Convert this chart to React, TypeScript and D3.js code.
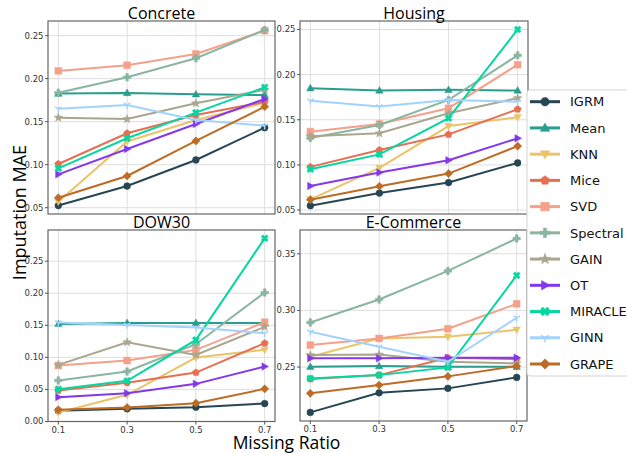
import React from "react";
import * as d3 from "d3";

const ratios = [0.1, 0.3, 0.5, 0.7];

const methods = ["IGRM", "Mean", "KNN", "Mice", "SVD", "Spectral", "GAIN", "OT", "MIRACLE", "GINN", "GRAPE"];

const colors = ["#264653", "#2a9d8f", "#e9c46a", "#e76f51", "#f4a08a", "#8ab5a0", "#a9a690", "#8338ec", "#06d6a0", "#a2d2ff", "#bc6c25"];

const markers = ["circle", "triUp", "triDown", "pentagon", "square", "plus", "star", "triRight", "x", "tri", "diamond"];

// rows follow the methods order, columns follow ratios
const concreteMAE = [
  [0.0525, 0.0752, 0.1055, 0.143],
  [0.1826, 0.1834, 0.1818, 0.181],
  [0.057, 0.127, 0.152, 0.172],
  [0.1008, 0.1365, 0.1578, 0.173],
  [0.209, 0.2156, 0.2287, 0.2558],
  [0.1837, 0.2016, 0.2237, 0.2566],
  [0.1547, 0.1531, 0.1714, 0.187],
  [0.0888, 0.1183, 0.1473, 0.1764],
  [0.0958, 0.1307, 0.1605, 0.19],
  [0.165, 0.1694, 0.152, 0.1453],
  [0.0616, 0.0869, 0.1276, 0.1674],
];

const housingMAE = [
  [0.0548, 0.0688, 0.0804, 0.1022],
  [0.185, 0.1824, 0.1832, 0.1824],
  [0.0618, 0.0967, 0.143, 0.1528],
  [0.0978, 0.1164, 0.1338, 0.1617],
  [0.1368, 0.1453, 0.1628, 0.211],
  [0.1298, 0.1442, 0.172, 0.2214],
  [0.1316, 0.135, 0.1572, 0.174],
  [0.0766, 0.0915, 0.1052, 0.1294],
  [0.0952, 0.1116, 0.1517, 0.25],
  [0.171, 0.1646, 0.172, 0.17],
  [0.0615, 0.0763, 0.0904, 0.1208],
];

const dow30MAE = [
  [0.0167, 0.0198, 0.0224, 0.028],
  [0.1522, 0.1537, 0.1537, 0.1537],
  [0.014, 0.0416, 0.0997, 0.1117],
  [0.0483, 0.0603, 0.0763, 0.1221],
  [0.0873, 0.095, 0.1117, 0.1548],
  [0.0639, 0.0779, 0.1205, 0.201],
  [0.0883, 0.1236, 0.1039, 0.1475],
  [0.038, 0.0442, 0.0587, 0.0857],
  [0.0504, 0.0634, 0.1272, 0.2856],
  [0.1542, 0.1506, 0.1464, 0.1377],
  [0.0182, 0.0218, 0.0286, 0.0509],
];

const ecommerceMAE = [
  [0.21, 0.2273, 0.2312, 0.2409],
  [0.2503, 0.2509, 0.2503, 0.2503],
  [0.2591, 0.2753, 0.2767, 0.2829],
  [0.2394, 0.2429, 0.2582, 0.2571],
  [0.2694, 0.2753, 0.2838, 0.3058],
  [0.2894, 0.3097, 0.3349, 0.3635],
  [0.2606, 0.261, 0.2547, 0.2532],
  [0.2577, 0.2577, 0.2583, 0.2583],
  [0.24, 0.2429, 0.2497, 0.3309],
  [0.2811, 0.2679, 0.2547, 0.2935],
  [0.2268, 0.2341, 0.2418, 0.2509],
];

const xTicks = [0.1, 0.3, 0.5, 0.7];
const yTicksLow = [0.05, 0.1, 0.15, 0.2, 0.25];
const yTicksDow = [0.0, 0.05, 0.1, 0.15, 0.2, 0.25];
const yTicksEcom = [0.25, 0.3, 0.35];

const panels = [
  { title: "Concrete", rows: concreteMAE, yTicks: yTicksLow, yDomain: [0.0427, 0.267], box: [48, 275, 21, 214], xLabels: false },
  { title: "Housing", rows: housingMAE, yTicks: yTicksLow, yDomain: [0.0456, 0.2594], box: [300, 528, 21, 214], xLabels: false },
  { title: "DOW30", rows: dow30MAE, yTicks: yTicksDow, yDomain: [0, 0.2986], box: [48, 275, 230, 421.5], xLabels: true },
  { title: "E-Commerce", rows: ecommerceMAE, yTicks: yTicksEcom, yDomain: [0.2024, 0.371], box: [300, 527, 230, 421], xLabels: true },
];

const poly = (pts) => "M" + pts.map((p) => p.join(",")).join("L") + "Z";

function markerPath(type, r) {
  switch (type) {
    case "circle":
      return d3.symbol(d3.symbolCircle, Math.PI * r * r)();
    case "triUp":
      return poly([[0, -r * 1.15], [r * 1.1, r * 0.8], [-r * 1.1, r * 0.8]]);
    case "triDown":
      return poly([[0, r * 1.15], [r * 1.1, -r * 0.8], [-r * 1.1, -r * 0.8]]);
    case "triRight":
      return poly([[r * 1.15, 0], [-r * 0.8, -r * 1.1], [-r * 0.8, r * 1.1]]);
    case "pentagon":
      return poly(d3.range(5).map((k) => {
        const a = -Math.PI / 2 + (k * 2 * Math.PI) / 5;
        return [r * 1.1 * Math.cos(a), r * 1.1 * Math.sin(a)];
      }));
    case "square":
      return poly([[-r, -r], [r, -r], [r, r], [-r, r]]);
    case "diamond":
      return poly([[0, -r * 1.2], [r * 1.2, 0], [0, r * 1.2], [-r * 1.2, 0]]);
    case "plus": {
      const a = r * 0.38, b = r * 1.1;
      return poly([[-a, -b], [a, -b], [a, -a], [b, -a], [b, a], [a, a], [a, b], [-a, b], [-a, a], [-b, a], [-b, -a], [-a, -a]]);
    }
    case "x": {
      const a = r * 0.38, b = r * 1.1;
      const pts = [[-a, -b], [a, -b], [a, -a], [b, -a], [b, a], [a, a], [a, b], [-a, b], [-a, a], [-b, a], [-b, -a], [-a, -a]];
      const c = Math.SQRT1_2;
      return poly(pts.map(([x, y]) => [(x - y) * c, (x + y) * c]));
    }
    case "star":
      return poly(d3.range(10).map((k) => {
        const a = -Math.PI / 2 + (k * Math.PI) / 5;
        const rr = k % 2 === 0 ? r * 1.35 : r * 0.55;
        return [rr * Math.cos(a), rr * Math.sin(a)];
      }));
    case "tri": {
      const b = r * 1.1;
      return `M0,0L0,${b}M0,0L${-b * 0.87},${-b * 0.5}M0,0L${b * 0.87},${-b * 0.5}`;
    }
    default:
      return "";
  }
}

const Marker = ({ type, x, y, r, color }) => (
  <path
    d={markerPath(type, r)}
    transform={`translate(${x},${y})`}
    fill={type === "tri" ? "none" : color}
    stroke={color}
    strokeWidth={type === "tri" ? 1.5 : 0.5}
  />
);

const tickFont = "DejaVu Sans, sans-serif";
const labelFont = "Open Sans, sans-serif";

function Panel({ p }) {
  const [x0, x1, y0, y1] = p.box;
  const x = d3.scaleLinear().domain([0.07, 0.73]).range([x0, x1]);
  const y = d3.scaleLinear().domain(p.yDomain).range([y1, y0]);
  const line = d3.line().x((d, i) => x(ratios[i])).y((d) => y(d));
  return (
    <g>
      {p.yTicks.map((t) => (
        <line key={"gy" + t} x1={x0} x2={x1} y1={y(t)} y2={y(t)} stroke="#dedede" strokeWidth={1} />
      ))}
      {xTicks.map((t) => (
        <line key={"gx" + t} x1={x(t)} x2={x(t)} y1={y0} y2={y1} stroke="#dedede" strokeWidth={1} />
      ))}
      {p.rows.map((row, m) => (
        <g key={methods[m]}>
          <path d={line(row)} fill="none" stroke={colors[m]} strokeWidth={2} />
          {row.map((v, i) => (
            <Marker key={i} type={markers[m]} x={x(ratios[i])} y={y(v)} r={3.4} color={colors[m]} />
          ))}
        </g>
      ))}
      <rect x={x0} y={y0} width={x1 - x0} height={y1 - y0} fill="none" stroke="#666" strokeWidth={1.2} />
      {p.yTicks.map((t) => (
        <g key={"ty" + t}>
          <line x1={x0 - 3} x2={x0} y1={y(t)} y2={y(t)} stroke="#555" />
          <text x={x0 - 4.5} y={y(t)} dy="0.34em" textAnchor="end" fontSize={8.5} fontFamily={tickFont} fill="#333">
            {d3.format(".2f")(t)}
          </text>
        </g>
      ))}
      {p.xLabels &&
        xTicks.map((t) => (
          <g key={"tx" + t}>
            <line x1={x(t)} x2={x(t)} y1={y1} y2={y1 + 3} stroke="#555" />
            <text x={x(t)} y={y1 + 11} textAnchor="middle" fontSize={8.5} fontFamily={tickFont} fill="#333">
              {d3.format(".1f")(t)}
            </text>
          </g>
        ))}
      <text x={(x0 + x1) / 2} y={y0 - 2.5} textAnchor="middle" fontSize={16} fontFamily={labelFont} fill="#000">
        {p.title}
      </text>
    </g>
  );
}

export default function App() {
  const legendY = d3.scaleLinear().domain([0, methods.length - 1]).range([101.7, 364]);
  return (
    <svg width={627} height={453} style={{ position: "absolute", left: 0, top: 0, background: "#fff" }}>
      <rect width={627} height={453} fill="#fff" />
      {panels.map((p) => (
        <Panel key={p.title} p={p} />
      ))}
      <text x={286.5} y={448.5} textAnchor="middle" fontSize={17.5} fontFamily={labelFont} fill="#000">
        Missing Ratio
      </text>
      <text transform="translate(26,212.5) rotate(-90)" textAnchor="middle" fontSize={18} fontFamily={labelFont} fill="#000">
        Imputation MAE
      </text>
      <g>
        <rect x={527} y={90} width={115} height={286} rx={3} fill="#fff" stroke="#d4d4d4" strokeWidth={1} />
        {methods.map((m, i) => (
          <g key={m}>
            <line x1={530} x2={560} y1={legendY(i)} y2={legendY(i)} stroke={colors[i]} strokeWidth={3} />
            <Marker type={markers[i]} x={545} y={legendY(i)} r={4.3} color={colors[i]} />
            <text x={570} y={legendY(i)} dy="0.36em" fontSize={13} fontFamily={tickFont} fill="#111">
              {m}
            </text>
          </g>
        ))}
      </g>
    </svg>
  );
}
